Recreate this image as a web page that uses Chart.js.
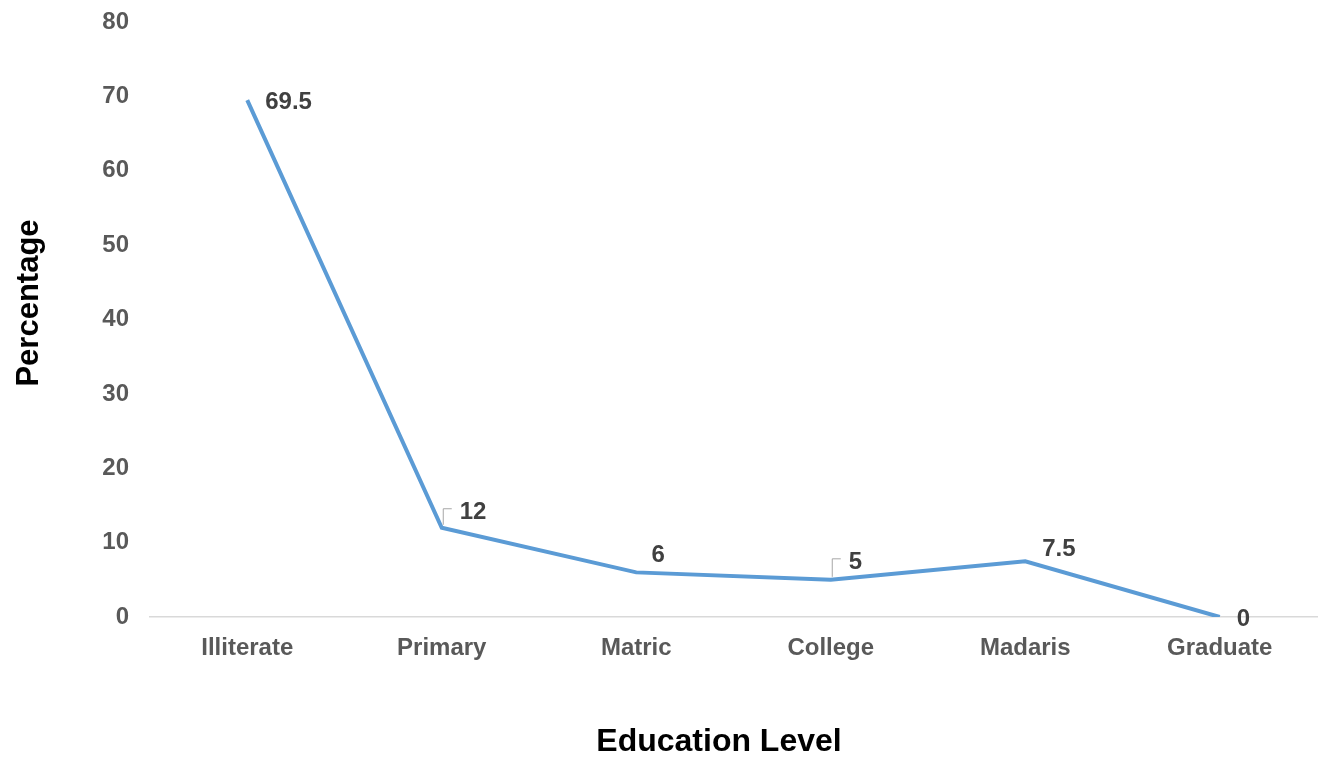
<!DOCTYPE html>
<html>
<head>
<meta charset="utf-8">
<script src="https://cdn.jsdelivr.net/npm/chart.js@4/dist/chart.umd.min.js"></script>
<style>
  html, body { margin: 0; padding: 0; background: #ffffff; }
  #wrap { width: 1325px; height: 760px; position: relative; }
</style>
</head>
<body>
<div id="wrap"><canvas id="eduChart"></canvas></div>
<script>
// 教育レベル別の割合
const levels = ["Illiterate", "Primary", "Matric", "College", "Madaris", "Graduate"];
const percentages = [69.5, 12, 6, 5, 7.5, 0];
const yTicks = [0, 10, 20, 30, 40, 50, 60, 70, 80];

// ラベル位置 (点からのずらし量) と引き出し線の有無
const labelOffsets = [
  { dx: 18, dy: 2, leader: false },
  { dx: 18, dy: -15, leader: true },
  { dx: 22, dy: -17, leader: false, center: true },
  { dx: 18, dy: -17, leader: true },
  { dx: 17, dy: -12, leader: false },
  { dx: 17, dy: 2, leader: false },
];

const FONT = "'Liberation Sans', Arial, sans-serif";

// データラベルと軸タイトルの描画
const labelPlugin = {
  id: "labelPlugin",
  afterDatasetsDraw(chart) {
    const ctx = chart.ctx;
    const meta = chart.getDatasetMeta(0);
    ctx.save();
    ctx.font = "bold 24px " + FONT;
    ctx.fillStyle = "#404040";
    ctx.textBaseline = "middle";
    meta.data.forEach((pt, i) => {
      const o = labelOffsets[i];
      const text = String(percentages[i]);
      ctx.textAlign = o.center ? "center" : "left";
      const x = pt.x + o.dx;
      const y = pt.y + o.dy;
      ctx.fillText(text, x, y);
      if (o.leader) {
        ctx.strokeStyle = "#a6a6a6";
        ctx.lineWidth = 1;
        ctx.beginPath();
        ctx.moveTo(pt.x + 1.5, pt.y - 3);
        ctx.lineTo(pt.x + 1.5, y - 4);
        ctx.lineTo(pt.x + 10, y - 4);
        ctx.stroke();
      }
    });
    ctx.restore();
  },
  afterDraw(chart) {
    const ctx = chart.ctx;
    ctx.save();
    ctx.fillStyle = "#000000";
    ctx.textAlign = "center";
    ctx.textBaseline = "middle";
    ctx.font = "bold 32px " + FONT;
    ctx.fillText("Education Level", 719, 742);
    ctx.translate(29, 303);
    ctx.rotate(-Math.PI / 2);
    ctx.font = "bold 31px " + FONT;
    ctx.fillText("Percentage", 0, 0);
    ctx.restore();
  },
};

new Chart(document.getElementById("eduChart"), {
  type: "line",
  data: {
    labels: levels,
    datasets: [
      {
        data: percentages,
        borderColor: "#5b9bd5",
        borderWidth: 4,
        pointRadius: 0,
        tension: 0,
        fill: false,
      },
    ],
  },
  options: {
    responsive: true,
    maintainAspectRatio: false,
    animation: false,
    layout: { padding: { top: 22, right: 8, left: 0, bottom: 0 } },
    plugins: {
      legend: { display: false },
      tooltip: { enabled: false },
    },
    scales: {
      x: {
        offset: true,
        grid: { display: false, drawTicks: false },
        border: { display: true, color: "#d9d9d9", width: 1.5 },
        ticks: {
          padding: 17,
          color: "#595959",
          font: { family: FONT, size: 24, weight: "bold" },
        },
        afterFit(scale) {
          scale.height = 143;
          scale.paddingLeft = 0;
          scale.paddingRight = 0;
        },
      },
      y: {
        min: 0,
        max: 80,
        afterBuildTicks(scale) {
          scale.ticks = yTicks.map((v) => ({ value: v }));
        },
        grid: { display: false, drawTicks: false },
        border: { display: false },
        ticks: {
          padding: 21,
          color: "#595959",
          font: { family: FONT, size: 24, weight: "bold" },
        },
        afterFit(scale) {
          scale.width = 150;
          scale.paddingTop = 0;
          scale.paddingBottom = 0;
        },
      },
    },
  },
  plugins: [labelPlugin],
});
</script>
</body>
</html>
